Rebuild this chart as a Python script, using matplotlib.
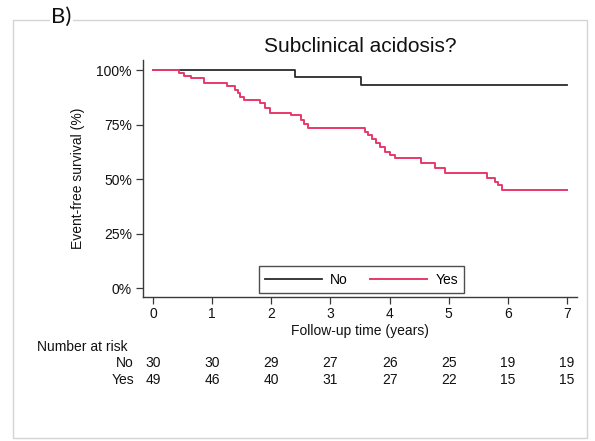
import matplotlib
matplotlib.use("Agg")
import matplotlib.pyplot as plt
from matplotlib.patches import Rectangle
from matplotlib.lines import Line2D

plt.rcParams['font.family'] = ['Liberation Sans', 'DejaVu Sans']

# Kaplan-Meier step data (time in years, event-free survival fraction)
no_times = [0.0, 2.40, 3.52, 7.0]
no_surv = [1.0, 0.967, 0.933, 0.933]

yes_times = [0.0, 0.445, 0.53, 0.64, 0.86, 1.25, 1.39, 1.43, 1.47, 1.53, 1.81,
             1.90, 1.98, 2.33, 2.50, 2.56, 2.62, 3.59, 3.64, 3.70, 3.77, 3.84,
             3.93, 4.01, 4.10, 4.54, 4.77, 4.94, 5.65, 5.79, 5.84, 5.90, 7.0]
yes_surv = [1.0, 0.986, 0.974, 0.963, 0.940, 0.928, 0.910, 0.894, 0.879, 0.864,
            0.849, 0.826, 0.806, 0.795, 0.772, 0.752, 0.734, 0.718, 0.703, 0.683,
            0.665, 0.647, 0.627, 0.611, 0.596, 0.573, 0.550, 0.528, 0.505, 0.489,
            0.474, 0.451, 0.451]

risk_times = [0, 1, 2, 3, 4, 5, 6, 7]
risk_no = [30, 30, 29, 27, 26, 25, 19, 19]
risk_yes = [49, 46, 40, 31, 27, 22, 15, 15]

y_ticks = [0, 0.25, 0.5, 0.75, 1.0]
y_labels = ['0%', '25%', '50%', '75%', '100%']

W, H = 595, 441
fig = plt.figure(figsize=(W / 100, H / 100), dpi=100)
fig.patch.set_facecolor('white')

# outer graph frame
frame = Rectangle((13 / W, 1 - 438 / H), (587 - 13) / W, (438 - 20) / H,
                  transform=fig.transFigure, fill=False, edgecolor='#d4d4d4',
                  linewidth=1.0)
fig.patches.append(frame)
fig.text(51 / W, 1 - 17 / H, 'B)', fontsize=16, family=['Lato', 'DejaVu Sans'],
         va='center', ha='left', color='#111111',
         bbox=dict(facecolor='white', edgecolor='none', pad=1))

ax = fig.add_axes([143 / W, 1 - 297 / H, (577 - 143) / W, (297 - 60) / H])
ax.set_facecolor('white')

axis_col = '#3a3a3a'
black_col = '#2b2b2b'
pink_col = '#e8386a'

ax.step(no_times, no_surv, where='post', color=black_col, linewidth=1.3)
ax.step(yes_times, yes_surv, where='post', color=pink_col, linewidth=1.4)

ax.set_xlim(-0.17, 7.17)
ax.set_ylim(-0.04, 1.047)
ax.set_xticks(risk_times)
ax.set_yticks(y_ticks)
ax.set_yticklabels(y_labels)

for side in ('top', 'right'):
    ax.spines[side].set_visible(False)
for side in ('left', 'bottom'):
    ax.spines[side].set_color(axis_col)
    ax.spines[side].set_linewidth(1.0)
ax.tick_params(axis='both', colors=axis_col, labelcolor='#111111',
               labelsize=10, length=5, width=0.9, direction='out')
ax.tick_params(axis='x', pad=2)
ax.tick_params(axis='y', pad=3)

ax.set_ylabel('Event-free survival (%)', fontsize=10, color='#111111', labelpad=8)
ax.set_xlabel('Follow-up time (years)', fontsize=10, color='#111111', labelpad=2)
ax.set_title('Subclinical acidosis?', fontsize=15, color='#111111', pad=6)

handles = [Line2D([], [], color=black_col, linewidth=1.3),
           Line2D([], [], color=pink_col, linewidth=1.4)]
leg = ax.legend(handles, ['No', 'Yes'], ncol=2, loc='lower center',
                bbox_to_anchor=(0.5035, 0.017), fontsize=10, frameon=True,
                fancybox=False, handlelength=4.1, handletextpad=0.6,
                columnspacing=1.6, borderpad=0.45, borderaxespad=0)
leg.get_frame().set_edgecolor('#222222')
leg.get_frame().set_linewidth(1.0)

# number-at-risk table
def tx(t):
    return ax.transData.transform((t, 0))[0] / W

fig.canvas.draw()
fig.text(37 / W, 1 - 347 / H, 'Number at risk', fontsize=10, ha='left',
         va='center', color='#111111')
fig.text(134 / W, 1 - 363 / H, 'No', fontsize=10, ha='right', va='center',
         color='#111111')
fig.text(134 / W, 1 - 380 / H, 'Yes', fontsize=10, ha='right', va='center',
         color='#111111')
for t, n_no, n_yes in zip(risk_times, risk_no, risk_yes):
    fig.text(tx(t), 1 - 363 / H, str(n_no), fontsize=10, ha='center',
             va='center', color='#111111')
    fig.text(tx(t), 1 - 380 / H, str(n_yes), fontsize=10, ha='center',
             va='center', color='#111111')

fig.savefig('out.png', dpi=100, facecolor='white')
